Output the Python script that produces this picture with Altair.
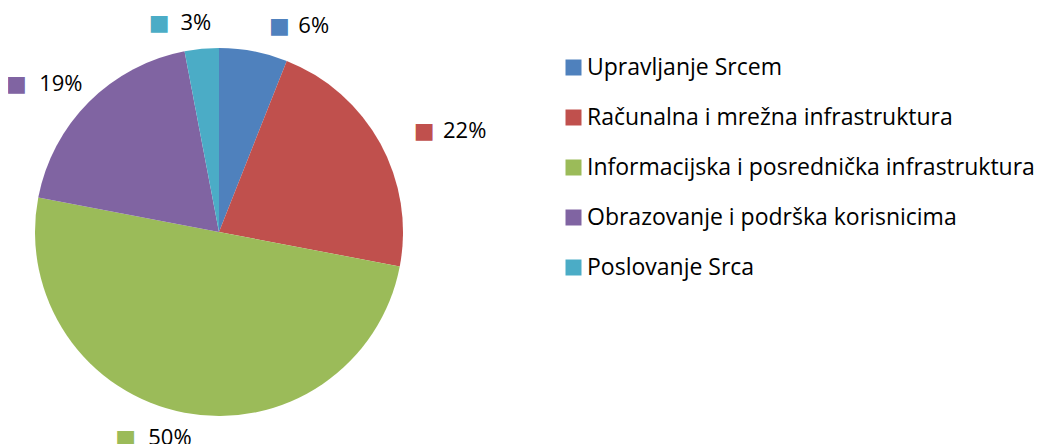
import altair as alt
import pandas as pd

categories = [
    "Upravljanje Srcem",
    "Računalna i mrežna infrastruktura",
    "Informacijska i posrednička infrastruktura",
    "Obrazovanje i podrška korisnicima",
    "Poslovanje Srca",
]
shares = [6, 22, 50, 19, 3]
colors = ["#4F81BD", "#C0504D", "#9BBB59", "#8064A2", "#4BACC6"]

df = pd.DataFrame({"category": categories, "share": shares, "idx": list(range(len(categories)))})
total = sum(shares)

CX, CY, R = 211, 224, 184
LABEL_R = 210
FONT = "Open Sans"
LABEL_SIZE = 22
MARK_FONT = "DejaVu Sans"
MARK_SIZE = 22

theta_scale = alt.Scale(domain=[0, total])
color_scale = alt.Scale(domain=categories, range=colors)

base = (
    alt.Chart(df)
    .transform_window(cum="sum(share)", sort=[alt.SortField("idx", order="ascending")], frame=[None, 0])
    .transform_calculate(
        start="datum.cum - datum.share",
        mid="datum.cum - datum.share / 2",
    )
    .transform_calculate(
        side=f"datum.mid < {total / 2} ? 'R' : 'L'",
        label="datum.share + '%'",
    )
    .transform_calculate(
        markR="datum.side == 'R' ? '\u25A0' : ''",
        numR="datum.side == 'R' ? datum.label : ''",
        markL1="datum.side == 'L' && length(datum.label) == 2 ? '\u25A0' : ''",
        markL2="datum.side == 'L' && length(datum.label) == 3 ? '\u25A0' : ''",
        numL="datum.side == 'L' ? datum.label : ''",
    )
)

arc = base.mark_arc(radius=R).encode(
    theta=alt.Theta("start:Q", scale=theta_scale, stack=False),
    theta2="cum:Q",
    color=alt.Color(
        "category:N",
        scale=color_scale,
        sort=categories,
        legend=alt.Legend(
            orient="none",
            legendX=554,
            legendY=48,
            title=None,
            symbolType="square",
            symbolSize=256,
            symbolStrokeWidth=0,
            labelFont=FONT,
            labelFontSize=23,
            labelColor="#000000",
            labelLimit=1000,
            labelOffset=2,
            rowPadding=26,
            padding=0,
        ),
    ),
    x=alt.value(CX),
    y=alt.value(CY),
)

theta_mid = alt.Theta("mid:Q", scale=theta_scale, stack=False)
cat_color = alt.Color("category:N", scale=color_scale, legend=None)


def marker(field, dx):
    return base.mark_text(
        radius=LABEL_R, align="center", baseline="middle", font=MARK_FONT, fontSize=MARK_SIZE, dx=dx
    ).encode(theta=theta_mid, text=f"{field}:N", color=cat_color, x=alt.value(CX), y=alt.value(CY))


def number(field, align, dx):
    return base.mark_text(
        radius=LABEL_R, align=align, baseline="middle", font=FONT, fontSize=LABEL_SIZE, dx=dx, color="#000000"
    ).encode(theta=theta_mid, text=f"{field}:N", x=alt.value(CX), y=alt.value(CY))


LEFT_DX = 12
layers = [
    arc,
    marker("markR", 21),
    number("numR", "left", 40),
    marker("markL1", LEFT_DX - 52),
    marker("markL2", LEFT_DX - 66),
    number("numL", "right", LEFT_DX),
]

chart = (
    alt.layer(*layers)
    .properties(width=1028, height=436, padding=0, autosize="none")
    .configure_view(stroke=None)
)

chart.save("out.html", embed_options={"renderer": "svg", "actions": False})
